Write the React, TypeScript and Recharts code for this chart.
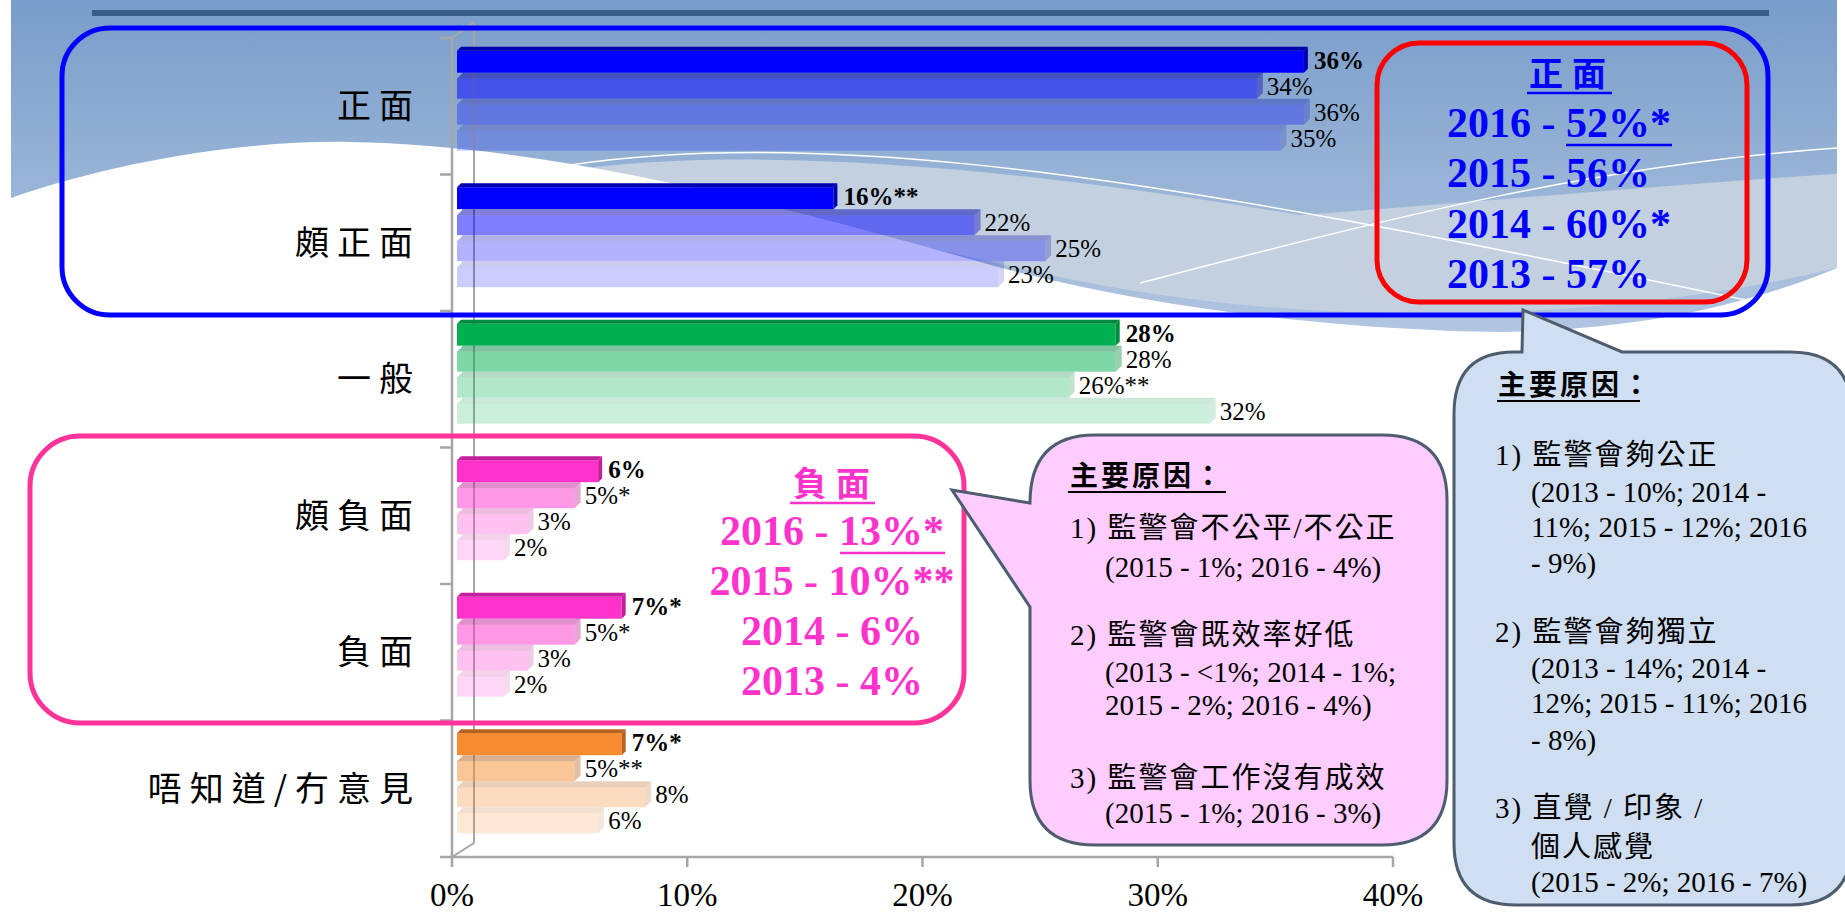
import React from 'react';
import { BarChart, Bar, XAxis, YAxis, LabelList } from 'recharts';

// categories and yearly shares (%), top to bottom
const categories = ['正面', '頗正面', '一般', '頗負面', '負面', '唔知道/冇意見'];
const years = ['2016', '2015', '2014', '2013'];
const v2016 = [36, 16, 28, 6, 7, 7];
const v2015 = [34, 22, 28, 5, 5, 5];
const v2014 = [36, 25, 26, 3, 3, 8];
const v2013 = [35, 23, 32, 2, 2, 6];
const l2016 = ['36%', '16%**', '28%', '6%', '7%*', '7%*'];
const l2015 = ['34%', '22%', '28%', '5%*', '5%*', '5%**'];
const l2014 = ['36%', '25%', '26%**', '3%', '3%', '8%'];
const l2013 = ['35%', '23%', '32%', '2%', '2%', '6%'];
const xTicks = [0, 10, 20, 30, 40];

const positiveSummary = ['2016 - ', '52%*', '2015 - 56%', '2014 - 60%*', '2013 - 57%'];
const negativeSummary = ['2016 - ', '13%*', '2015 - 10%**', '2014 - 6%', '2013 - 4%'];

const negReasons = [
  '1) 監警會不公平/不公正',
  '(2015 - 1%; 2016 - 4%)',
  '2) 監警會既效率好低',
  '(2013 - <1%; 2014 - 1%;',
  '2015 - 2%; 2016 - 4%)',
  '3) 監警會工作沒有成效',
  '(2015 - 1%; 2016 - 3%)',
];
const posReasons = [
  '1) 監警會夠公正',
  '(2013 - 10%; 2014 -',
  '11%; 2015 - 12%; 2016',
  '- 9%)',
  '2) 監警會夠獨立',
  '(2013 - 14%; 2014 -',
  '12%; 2015 - 11%; 2016',
  '- 8%)',
  '3) 直覺 / 印象 /',
  '個人感覺',
  '(2015 - 2%; 2016 - 7%)',
];

const data = categories.map((name, i) => ({
  name,
  y2016: v2016[i], y2015: v2015[i], y2014: v2014[i], y2013: v2013[i],
  l2016: l2016[i], l2015: l2015[i], l2014: l2014[i], l2013: l2013[i],
}));

// layout / style
const W = 1845;
const H = 915;
const PLOT = { left: 452, right: 1393, top: 38, bottom: 857 };
const SERIF = "'Liberation Serif', 'Times New Roman', 'Noto Sans CJK TC', serif";
const CJK = "'Noto Sans CJK TC', sans-serif";
const GREY = '#A6A6A6';
const catColors = ['#0000FF', '#0000FF', '#00B050', '#FF33CC', '#FF33CC', '#F68B2F'];
const catDark = ['#0000B0', '#0000B0', '#008A3E', '#C4209C', '#C4209C', '#B8621E'];
const seriesOpacity = [1, 0.5, 0.3, 0.2];
const DEPTH = 6;
const SHIFT_X = 5;
const SHIFT_Y = -7;

const Bar3D = (props: any) => {
  const { x, y, width, height, index, si } = props;
  if (!width || width <= 0) return null;
  const op = seriesOpacity[si];
  const base = catColors[index];
  const dark = catDark[index];
  const x0 = x + SHIFT_X;
  const y0 = y + SHIFT_Y;
  const d = si === 0 ? 4 : DEPTH;
  const w = width;
  const h = height;
  return (
    <g>
      <rect x={x0} y={y0 + d} width={w} height={h - d} fill={base} fillOpacity={op} />
      <polygon
        points={`${x0},${y0 + d} ${x0 + d},${y0} ${x0 + w + d},${y0} ${x0 + w},${y0 + d}`}
        fill={dark}
        fillOpacity={op}
      />
      <polygon
        points={`${x0 + w},${y0 + d} ${x0 + w + d},${y0} ${x0 + w + d},${y0 + h - d} ${x0 + w},${y0 + h}`}
        fill={dark}
        fillOpacity={si === 0 ? 1 : op * 0.8}
      />
    </g>
  );
};

const BarLabel = (props: any) => {
  const { x, y, width, height, value, si } = props;
  return (
    <text
      x={x + SHIFT_X + width + DEPTH + 4}
      y={y + SHIFT_Y + height / 2 + 9}
      fontFamily={SERIF}
      fontSize={25}
      fontWeight={si === 0 ? 700 : 400}
      fill="#000"
    >
      {value}
    </text>
  );
};

const CatTick = (props: any) => {
  const { y, payload } = props;
  const index = props.index ?? payload.index;
  const band = (PLOT.bottom - PLOT.top) / categories.length;
  return (
    <g>
      <line x1={PLOT.left - 12} x2={PLOT.left} y1={y - band / 2} y2={y - band / 2} stroke={GREY} strokeWidth={2.5} />
      {index === categories.length - 1 && (
        <line x1={PLOT.left - 12} x2={PLOT.left} y1={y + band / 2} y2={y + band / 2} stroke={GREY} strokeWidth={2.5} />
      )}
      <text x={421} y={y + 12} textAnchor="end" fontFamily={CJK} fontSize={34} letterSpacing={8} fill="#000">
        {payload.value}
      </text>
    </g>
  );
};

const Background = () => (
  <svg width={W} height={H} style={{ position: 'absolute', left: 0, top: 0 }}>
    <defs>
      <linearGradient id="sky" x1="0" y1="0" x2="0" y2="1">
        <stop offset="0%" stopColor="#799DCA" />
        <stop offset="100%" stopColor="#B3C7E1" />
      </linearGradient>
    </defs>
    <rect x={11} y={0} width={1826} height={345} fill="url(#sky)" />
    <path
      d="M 520 178 C 720 140, 1000 165, 1300 215 C 1500 200, 1700 182, 1837 174 L 1837 268 C 1600 325, 1300 330, 1050 275 C 850 230, 700 195, 520 178 Z"
      fill="#C3D0E0"
    />
    <path
      d="M 11 198 C 120 160, 250 140, 350 142 C 550 145, 780 205, 980 262 C 1150 310, 1350 330, 1500 332 C 1650 330, 1760 300, 1837 268 L 1837 360 L 11 360 Z"
      fill="#FFFFFF"
    />
    <path d="M 570 165 C 800 130, 1100 170, 1500 250 C 1650 280, 1750 300, 1837 320" fill="none" stroke="#FFFFFF" strokeWidth={1.5} />
    <path d="M 1140 283 C 1400 215, 1600 165, 1837 148" fill="none" stroke="#FFFFFF" strokeWidth={1.5} />
    <rect x={92} y={10} width={1677} height={6} fill="#385C88" />
    {/* back wall of the 3D plot */}
    <polyline
      points={`${PLOT.left},${PLOT.top} ${PLOT.left + 22},${PLOT.top - 16} ${PLOT.left + 22},${PLOT.bottom - 14} ${PLOT.left},${PLOT.bottom}`}
      fill="none"
      stroke={GREY}
      strokeWidth={2}
    />
  </svg>
);

const Txt = (p: any) => (
  <text
    x={p.x}
    y={p.y}
    fontSize={p.size ?? 29}
    fontWeight={p.bold ? 700 : 400}
    fill={p.fill ?? '#000'}
    textAnchor={p.anchor ?? 'start'}
    fontFamily={p.family ?? SERIF}
    letterSpacing={p.ls}
  >
    {p.children}
  </text>
);

const negLineY = [538, 577, 645, 682, 715, 788, 823];
const negLineX = [1070, 1105, 1070, 1105, 1105, 1070, 1105];
const posLineY = [465, 502, 537, 573, 642, 678, 713, 750, 818, 857, 892];
const posLineX = [1495, 1531, 1531, 1531, 1495, 1531, 1531, 1531, 1495, 1531, 1531];

const Overlay = () => (
  <svg width={W} height={H} style={{ position: 'absolute', left: 0, top: 0, pointerEvents: 'none' }}>
    {/* positive group frame */}
    <rect x={62} y={28} width={1706} height={287} rx={48} fill="none" stroke="#0000FF" strokeWidth={5} />
    <rect x={1377} y={43} width={370} height={259} rx={42} fill="none" stroke="#FF0000" strokeWidth={5} />
    <Txt x={1572} y={86} size={34} bold fill="#0000FF" anchor="middle" family={CJK} ls={9}>正面</Txt>
    <line x1={1527} x2={1612} y1={93} y2={93} stroke="#0000FF" strokeWidth={2.5} />
    <text x={1447} y={137} fontFamily={SERIF} fontSize={42} fontWeight={700} fill="#0000FF">
      {positiveSummary[0]}
      <tspan>{positiveSummary[1]}</tspan>
    </text>
    <line x1={1566} x2={1672} y1={145} y2={145} stroke="#0000FF" strokeWidth={2.5} />
    <Txt x={1447} y={187} size={42} bold fill="#0000FF">{positiveSummary[2]}</Txt>
    <Txt x={1447} y={238} size={42} bold fill="#0000FF">{positiveSummary[3]}</Txt>
    <Txt x={1447} y={288} size={42} bold fill="#0000FF">{positiveSummary[4]}</Txt>

    {/* negative group frame */}
    <rect x={30} y={436} width={934} height={287} rx={50} fill="none" stroke="#FF3399" strokeWidth={5} />
    <Txt x={836} y={496} size={34} bold fill="#FF33CC" anchor="middle" family={CJK} ls={9}>負面</Txt>
    <line x1={790} x2={875} y1={503} y2={503} stroke="#FF33CC" strokeWidth={2.5} />
    <text x={832} y={545} fontFamily={SERIF} fontSize={42} fontWeight={700} fill="#FF33CC" textAnchor="middle">
      {negativeSummary[0]}
      <tspan>{negativeSummary[1]}</tspan>
    </text>
    <line x1={840} x2={945} y1={553} y2={553} stroke="#FF33CC" strokeWidth={2.5} />
    <Txt x={832} y={595} size={42} bold fill="#FF33CC" anchor="middle">{negativeSummary[2]}</Txt>
    <Txt x={832} y={645} size={42} bold fill="#FF33CC" anchor="middle">{negativeSummary[3]}</Txt>
    <Txt x={832} y={695} size={42} bold fill="#FF33CC" anchor="middle">{negativeSummary[4]}</Txt>

    {/* negative reasons callout */}
    <path
      d="M 1095 435 L 1382 435 Q 1447 435 1447 500 L 1447 780 Q 1447 845 1382 845 L 1095 845 Q 1030 845 1030 780 L 1030 607 L 952 490 L 1030 503 Q 1030 435 1095 435 Z"
      fill="#FFCCFF"
      stroke="#4D5D6E"
      strokeWidth={3}
    />
    <Txt x={1070} y={486} size={28} bold family={CJK} ls={3}>主要原因：</Txt>
    <line x1={1068} x2={1226} y1={492} y2={492} stroke="#000" strokeWidth={2} />
    {negReasons.map((s, i) => (
      <Txt key={i} x={negLineX[i]} y={negLineY[i]} ls={negLineX[i] === 1070 ? 2 : undefined}>{s}</Txt>
    ))}

    {/* positive reasons callout */}
    <path
      d="M 1514 352 L 1522 352 L 1523 310 L 1622 352 L 1790 352 Q 1852 352 1852 414 L 1852 843 Q 1852 905 1790 905 L 1516 905 Q 1454 905 1454 843 L 1454 414 Q 1454 352 1514 352 Z"
      fill="#CFDEF0"
      stroke="#4D5D6E"
      strokeWidth={3}
    />
    <Txt x={1498} y={395} size={28} bold family={CJK} ls={3}>主要原因：</Txt>
    <line x1={1497} x2={1640} y1={401} y2={401} stroke="#000" strokeWidth={2} />
    {posReasons.map((s, i) => (
      <Txt key={i} x={posLineX[i]} y={posLineY[i]} ls={posLineX[i] === 1495 || i === 9 ? 2 : undefined}>{s}</Txt>
    ))}
  </svg>
);

export default function App() {
  return (
    <div style={{ position: 'absolute', left: 0, top: 0, width: W, height: H, background: '#FFFFFF' }}>
      <Background />
      <div style={{ position: 'absolute', left: 0, top: 0 }}>
        <BarChart
          width={W}
          height={H}
          data={data}
          layout="vertical"
          margin={{ top: PLOT.top, right: W - PLOT.right, bottom: 0, left: 0 }}
          barCategoryGap="11.5%"
          barGap={0}
        >
          <XAxis
            type="number"
            domain={[0, 40]}
            ticks={xTicks}
            interval={0}
            height={H - PLOT.bottom}
            tickFormatter={(v: number) => `${v}%`}
            axisLine={{ stroke: GREY, strokeWidth: 2.5 }}
            tickLine={{ stroke: GREY, strokeWidth: 2.5 }}
            tickSize={10}
            tickMargin={16}
            tick={{ fontSize: 33, fill: '#000', fontFamily: SERIF }}
          />
          <YAxis
            type="category"
            dataKey="name"
            width={PLOT.left}
            interval={0}
            axisLine={{ stroke: GREY, strokeWidth: 2.5 }}
            tickLine={false}
            tick={(p: any) => <CatTick {...p} />}
          />
          {years.map((yr, si) => (
            <Bar
              key={yr}
              dataKey={`y${yr}`}
              isAnimationActive={false}
              shape={(p: any) => <Bar3D {...p} si={si} />}
            >
              <LabelList dataKey={`l${yr}`} content={(p: any) => <BarLabel {...p} si={si} />} />
            </Bar>
          ))}
        </BarChart>
      </div>
      <Overlay />
    </div>
  );
}
